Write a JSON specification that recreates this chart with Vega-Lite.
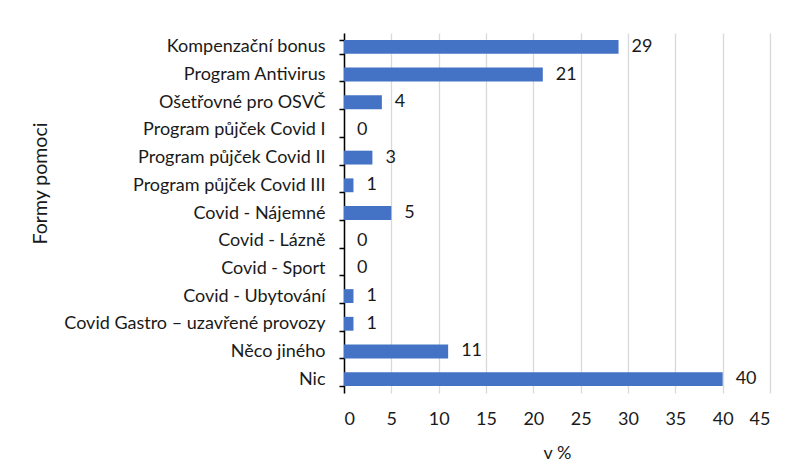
{
  "$schema": "https://vega.github.io/schema/vega-lite/v6.json",
  "width": 426,
  "height": 360,
  "autosize": {"type": "none"},
  "padding": {"left": 344, "top": 33, "right": 27, "bottom": 73},
  "background": "white",
  "config": {
    "view": {"stroke": null},
    "font": "Lato",
    "axis": {"labelFont": "Lato", "titleFont": "Lato", "labelColor": "#1a1a1a", "titleColor": "#1a1a1a", "titleFontWeight": "normal"}
  },
  "data": {
    "values": [
      {"forma": "Kompenzační bonus", "v": 29},
      {"forma": "Program Antivirus", "v": 21},
      {"forma": "Ošetřovné pro OSVČ", "v": 4},
      {"forma": "Program půjček Covid I", "v": 0},
      {"forma": "Program půjček Covid II", "v": 3},
      {"forma": "Program půjček Covid III", "v": 1},
      {"forma": "Covid - Nájemné", "v": 5},
      {"forma": "Covid - Lázně", "v": 0},
      {"forma": "Covid - Sport", "v": 0},
      {"forma": "Covid - Ubytování", "v": 1},
      {"forma": "Covid Gastro – uzavřené provozy", "v": 1},
      {"forma": "Něco jiného", "v": 11},
      {"forma": "Nic", "v": 40}
    ]
  },
  "encoding": {
    "y": {
      "field": "forma", "type": "nominal", "sort": null,
      "scale": {"paddingInner": 0.5, "paddingOuter": 0.25},
      "axis": {
        "title": "Formy pomoci", "titleFontSize": 19.5, "titleX": -304, "titleY": 150, "titleAlign": "center", "titleBaseline": "middle",
        "labelFontSize": 18, "labelPadding": 14, "labelLimit": 400,
        "domainColor": "#000000", "domainWidth": 1.5, "tickColor": "#000000", "tickWidth": 1.5, "tickSize": 5, "tickBand": "extent", "grid": false
      }
    },
    "x": {
      "field": "v", "type": "quantitative",
      "scale": {"domain": [0, 45], "nice": false},
      "axis": {
        "title": "v %", "titleFontSize": 18, "titlePadding": 16,
        "values": [0, 5, 10, 15, 20, 25, 30, 35, 40, 45],
        "labelFontSize": 18, "labelPadding": 17, "ticks": false, "domain": false,
        "grid": true, "gridColor": "#d9d9d9", "gridWidth": 1.3
      }
    }
  },
  "layer": [
    {"mark": {"type": "bar", "color": "#4472C4"}},
    {"mark": {"type": "text", "align": "left", "baseline": "middle", "dx": 13, "fontSize": 18, "color": "#1a1a1a"},
     "encoding": {"text": {"field": "v", "type": "quantitative"}}}
  ]
}
